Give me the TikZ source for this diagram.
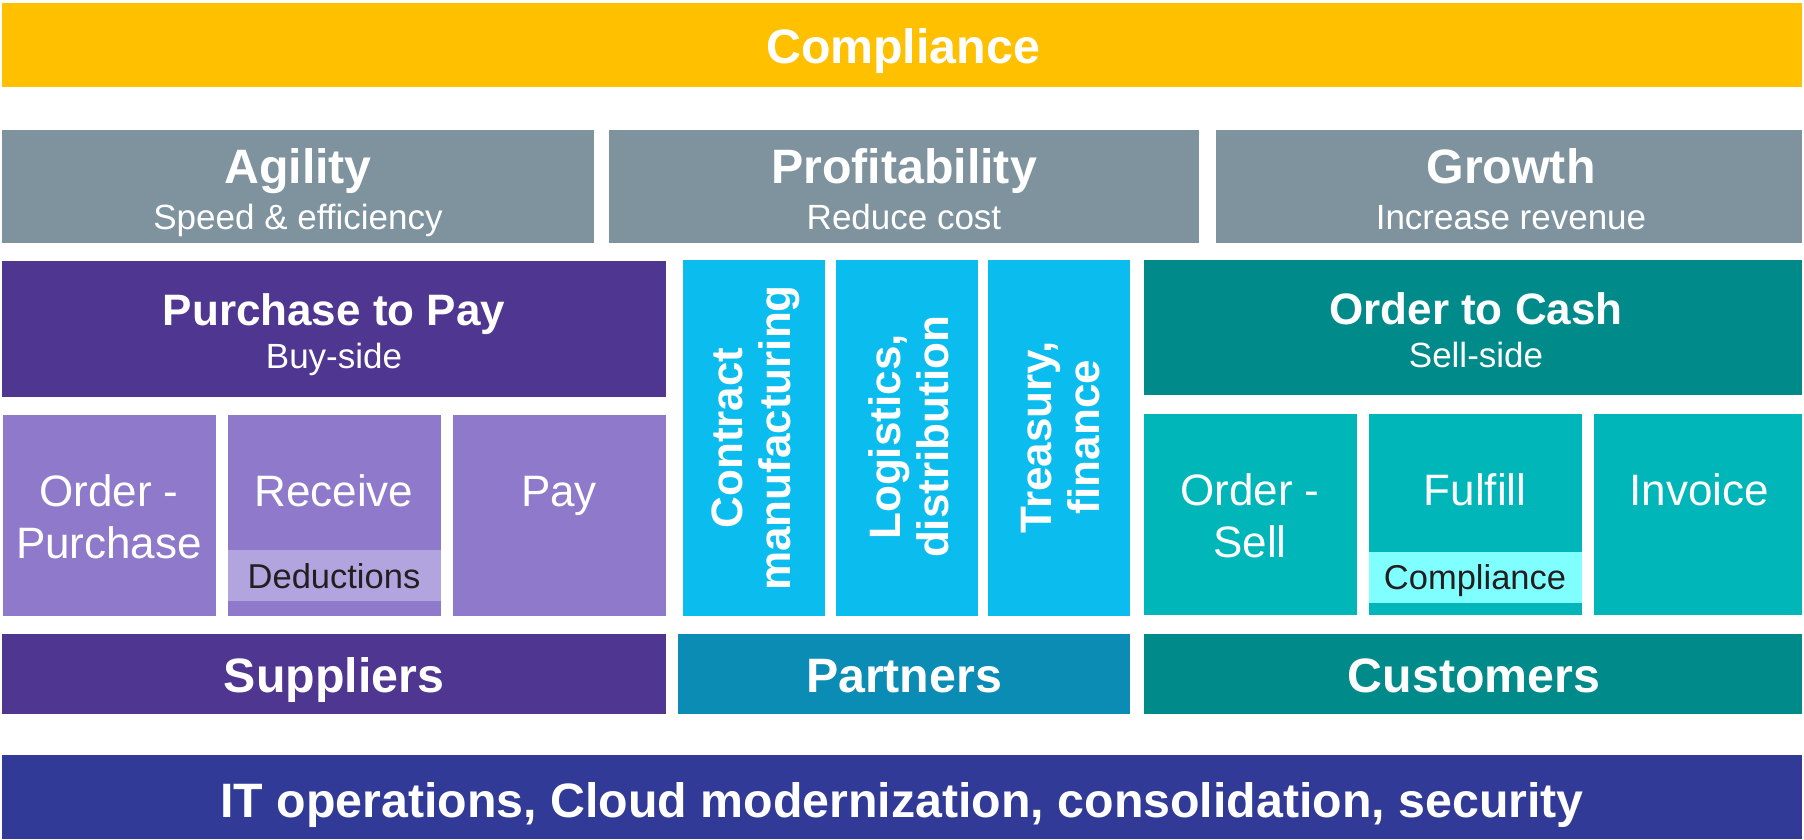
\documentclass[tikz,border=0pt]{standalone}
\usepackage{fontspec}
\setmainfont{Liberation Sans}
\usepackage{tikz}
\definecolor{yel}{HTML}{FFC000}
\definecolor{slate}{HTML}{7F939F}
\definecolor{grape}{HTML}{4F3690}
\definecolor{lav}{HTML}{8E79CA}
\definecolor{lavlt}{HTML}{B2A4DE}
\definecolor{sky}{HTML}{0BBCEE}
\definecolor{ocean}{HTML}{0A8CB4}
\definecolor{teal}{HTML}{008B8A}
\definecolor{teallt}{HTML}{00B6B9}
\definecolor{aqua}{HTML}{7FFFFF}
\definecolor{navy}{HTML}{313B97}
\definecolor{ink}{HTML}{231F20}
\tikzset{
  hd/.style={text=white, anchor=base, inner sep=0pt, font=\bfseries\fontsize{48.3}{56}\selectfont},
  ph/.style={text=white, anchor=base, inner sep=0pt, font=\bfseries\fontsize{44}{52}\selectfont},
  sub/.style={text=white, anchor=base, inner sep=0pt, font=\fontsize{35}{40}\selectfont},
  lbl/.style={text=white, anchor=base, inner sep=0pt, font=\fontsize{44}{52}\selectfont},
  tag/.style={text=ink, anchor=base, inner sep=0pt, font=\fontsize{34.5}{40}\selectfont},
  vt/.style={text=white, rotate=90, align=center, inner sep=0pt, font=\bfseries\fontsize{44}{48}\selectfont},
}

\begin{document}
\begin{tikzpicture}[x=1pt,y=-1pt]
  \useasboundingbox (0,0) rectangle (1804,839);
  \fill[yel] (2,3) rectangle (1802,87);
  \node[hd] (comp) at (903,63) {Compliance};

  \fill[slate] (2,130) rectangle (594,243);
  \fill[slate] (609,130) rectangle (1199,243);
  \fill[slate] (1216,130) rectangle (1802,243);
  \node[hd] (agil) at (298,183) {Agility};
  \node[sub] (agils) at (298,229) {Speed \& efficiency};
  \node[hd] (prof) at (904,183) {Profitability};
  \node[sub] (profs) at (904,229) {Reduce cost};
  \node[hd] (grow) at (1511,183) {Growth};
  \node[sub] (grows) at (1511,229) {Increase revenue};

  \fill[grape] (2,261) rectangle (666,397);
  \node[ph] (p2p) at (334,325) {Purchase to Pay};
  \node[sub] (p2ps) at (334,368) {Buy-side};
  \fill[teal] (1144,260) rectangle (1802,395);
  \node[ph] (o2c) at (1476,324) {Order to Cash};
  \node[sub] (o2cs) at (1476,367) {Sell-side};

  \fill[sky] (683,260) rectangle (825,616);
  \fill[sky] (836,260) rectangle (978,616);
  \fill[sky] (988,260) rectangle (1130,616);
  \node[vt] (cman) at (756,438) {Contract\\manufacturing};
  \node[vt] (logi) at (909,437) {Logistics,\\distribution};
  \node[vt] (treas) at (1061,437) {Treasury,\\finance};

  \fill[lav] (3,415) rectangle (216,616);
  \fill[lav] (228,415) rectangle (441,616);
  \fill[lavlt] (228,550) rectangle (441,601);
  \fill[lav] (453,415) rectangle (666,616);
  \node[lbl] (ordp) at (109,506) {Order -};
  \node[lbl] (ordp2) at (109,558) {Purchase};
  \node[lbl] (recv) at (334,506) {Receive};
  \node[tag] (ded) at (334,588) {Deductions};
  \node[lbl] (pay) at (559,506) {Pay};

  \fill[teallt] (1144,414) rectangle (1357,615);
  \fill[teallt] (1369,414) rectangle (1582,615);
  \fill[aqua] (1369,552) rectangle (1582,603);
  \fill[teallt] (1594,414) rectangle (1802,615);
  \node[lbl] (ords) at (1250,505) {Order -};
  \node[lbl] (ords2) at (1250,557) {Sell};
  \node[lbl] (fulf) at (1475,505) {Fulfill};
  \node[tag] (fcomp) at (1475,589) {Compliance};
  \node[lbl] (inv) at (1699,505) {Invoice};

  \fill[grape] (2,634) rectangle (666,714);
  \fill[ocean] (678,634) rectangle (1130,714);
  \fill[teal] (1144,634) rectangle (1802,714);
  \node[hd] (supp) at (334,692) {Suppliers};
  \node[hd] (part) at (904,692) {Partners};
  \node[hd] (cust) at (1474,692) {Customers};

  \fill[navy] (2,755) rectangle (1802,839);
  \node[hd] (itops) at (902,817) {IT operations, Cloud modernization, consolidation, security};
\end{tikzpicture}
\end{document}
